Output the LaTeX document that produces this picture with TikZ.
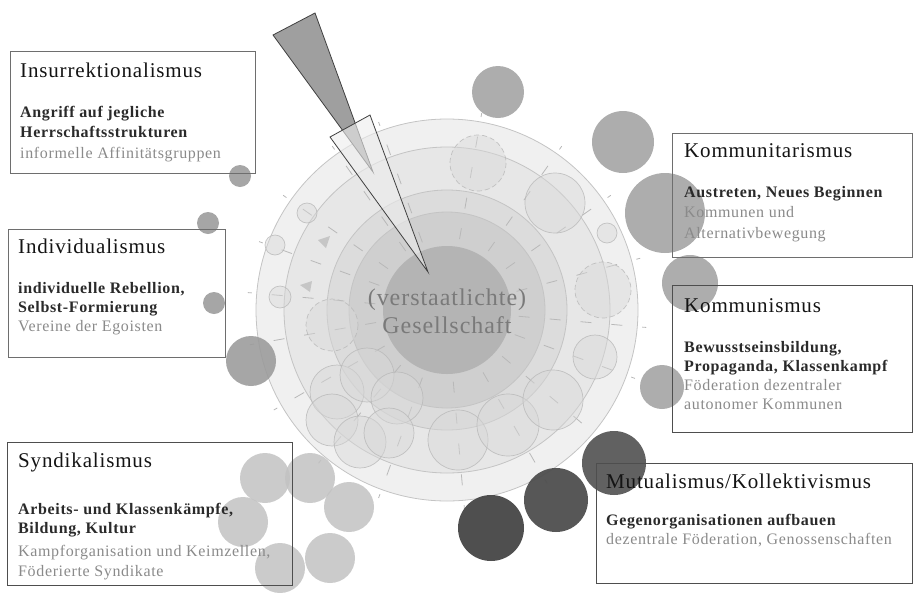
\documentclass[tikz,border=0pt]{standalone}
\usepackage{fontspec}
\setmainfont{Liberation Serif}[LetterSpace=4]
\usetikzlibrary{calc}
\definecolor{ringA}{HTML}{F0F0F0}
\definecolor{ringB}{HTML}{E7E7E7}
\definecolor{ringC}{HTML}{DCDCDC}
\definecolor{ringD}{HTML}{CFCFCF}
\definecolor{ringE}{HTML}{B4B4B4}
\definecolor{ringline}{HTML}{C4C4C4}
\definecolor{faint}{HTML}{D8D8D8}
\definecolor{faintline}{HTML}{B8B8B8}
\definecolor{satc}{HTML}{A6A6A6}
\definecolor{satl}{HTML}{C2C2C2}
\definecolor{smallc}{HTML}{9C9C9C}
\definecolor{darkA}{HTML}{585858}
\definecolor{darkB}{HTML}{4E4E4E}
\definecolor{darkC}{HTML}{464646}
\definecolor{boxc}{HTML}{6E6E6E}
\definecolor{titlec}{HTML}{141414}
\definecolor{boldc}{HTML}{2A2A2A}
\definecolor{grayc}{HTML}{8A8A8A}
\definecolor{centc}{HTML}{7A7A7A}
\begin{document}
\begin{tikzpicture}[x=1pt,y=-1pt,
  ttl/.style={anchor=base west, inner sep=0, font=\fontsize{21}{24}\selectfont, text=titlec},
  bdl/.style={anchor=base west, inner sep=0, font=\fontsize{16}{19}\selectfont\bfseries, text=boldc},
  gyl/.style={anchor=base west, inner sep=0, font=\fontsize{16}{19}\selectfont, text=grayc},
  panel/.style={draw=boxc, line width=1.2pt, anchor=north west, inner sep=0},
  ring/.style={draw=ringline, line width=0.8pt},
  fc/.style={fill=faint, fill opacity=0.45, draw=faintline, draw opacity=0.8, line width=0.7pt},
  fcd/.style={fc, dashed, dash pattern=on 5pt off 3pt},
  ray/.style={draw=faintline, line width=0.8pt, dash pattern=on 11pt off 20pt},
  sat/.style={fill=satc, fill opacity=0.92},
  satlight/.style={fill=satl, fill opacity=0.85},
  small/.style={fill=smallc, fill opacity=0.9}
]
\useasboundingbox (0,0) rectangle (915,592);
\coordinate (C) at (447,310);

% concentric rings
\filldraw[ring, fill=ringA] (C) circle (191);
\filldraw[ring, fill=ringB] (C) circle (163);
\filldraw[ring, fill=ringC] (C) circle (120);
\filldraw[ring, fill=ringD] (C) circle (98);
\fill[ringE] (C) circle (64);

% radial dashed rays
\foreach \a in {150,170,185,200,215,235,250,280,305,325,345,5,20,40,60,85,110,130}
  \draw[ray] ($(C)+(\a:72)$) -- ($(C)+(\a:200)$);

% faint circles in the rings
\filldraw[fc] (337,392) circle (27);
\filldraw[fc] (367,375) circle (27);
\filldraw[fc] (397,398) circle (26);
\filldraw[fc] (332,420) circle (26);
\filldraw[fc] (360,442) circle (26);
\filldraw[fc] (389,433) circle (25);
\filldraw[fc] (458,440) circle (30);
\filldraw[fc] (508,425) circle (31);
\filldraw[fc] (553,400) circle (30);
\filldraw[fc] (595,357) circle (22);
\filldraw[fcd] (603,290) circle (28);
\filldraw[fc] (607,233) circle (10);
\filldraw[fc] (555,203) circle (30);
\filldraw[fcd] (478,163) circle (28);
\filldraw[fc] (280,297) circle (11);
\filldraw[fcd] (332,325) circle (26);
\filldraw[fc] (307,213) circle (10);
\filldraw[fc] (275,245) circle (10);

% small arrow marks
\fill[faintline, opacity=0.7] (318,240) -- (330,236) -- (326,248) -- cycle;
\fill[faintline, opacity=0.7] (300,285) -- (312,281) -- (310,292) -- cycle;

% wedges
\filldraw[fill=gray!75, draw=gray!50!black, line width=0.8pt] (273,35) -- (315,13) -- (373,172) -- cycle;
\filldraw[fill=gray!15, fill opacity=0.6, draw=gray!50!black, line width=0.8pt] (330,137) -- (370,115) -- (428,272) -- cycle;

% satellites (upper right)
\fill[sat] (498,92) circle (26);
\fill[sat] (623,142) circle (31);
\fill[sat] (665,213) circle (40);
\fill[sat] (690,283) circle (28);
\fill[sat] (662,387) circle (22);
% dark satellites
\fill[darkA, fill opacity=0.95] (614,463) circle (32);
\fill[darkB, fill opacity=0.95] (556,500) circle (32);
\fill[darkC, fill opacity=0.95] (491,528) circle (33);
% left small satellites
\fill[small] (240,176) circle (11);
\fill[small] (208,223) circle (11);
\fill[small] (214,303) circle (11);
\fill[small] (251,361) circle (25);
% syndicalism cluster
\fill[satlight] (265,478) circle (25);
\fill[satlight] (310,478) circle (25);
\fill[satlight] (243,522) circle (25);
\fill[satlight] (349,507) circle (25);
\fill[satlight] (330,558) circle (25);
\fill[satlight] (280,568) circle (25);

% center text
\node[inner sep=0, anchor=base, font=\fontsize{24}{28}\selectfont, text=centc] (cent1) at (447,305) {(verstaatlichte)};
\node[inner sep=0, anchor=base, font=\fontsize{24}{28}\selectfont, text=centc] (cent2) at (447,333) {Gesellschaft};

% Insurrektionalismus
\node[panel, minimum width=245pt, minimum height=122pt] (ins) at (10,51) {};
\node[ttl] (insT) at (20,77) {Insurrektionalismus};
\node[bdl] (insA) at (20,117) {Angriff auf jegliche};
\node[bdl] (insB) at (20,137) {Herrschaftsstrukturen};
\node[gyl] (insC) at (20,158) {informelle Affinitätsgruppen};

% Individualismus
\node[panel, minimum width=217pt, minimum height=128pt] (ind) at (8,229) {};
\node[ttl] (indT) at (18,253) {Individualismus};
\node[bdl] (indA) at (18,293) {individuelle Rebellion,};
\node[bdl] (indB) at (18,312) {Selbst-Formierung};
\node[gyl] (indC) at (18,331) {Vereine der Egoisten};

% Syndikalismus
\node[panel, draw=darkB, minimum width=285pt, minimum height=143pt] (syn) at (7,442) {};
\node[ttl] (synT) at (18,467) {Syndikalismus};
\node[bdl] (synA) at (18,514) {Arbeits- und Klassenkämpfe,};
\node[bdl] (synB) at (18,533) {Bildung, Kultur};
\node[gyl] (synC) at (18,556) {Kampforganisation und Keimzellen,};
\node[gyl] (synD) at (18,576) {Föderierte Syndikate};

% Kommunitarismus
\node[panel, minimum width=240pt, minimum height=124pt] (kmt) at (672,133) {};
\node[ttl] (kmtT) at (684,157) {Kommunitarismus};
\node[bdl] (kmtA) at (684,197) {Austreten, Neues Beginnen};
\node[gyl] (kmtB) at (684,217) {Kommunen und};
\node[gyl] (kmtC) at (684,238) {Alternativbewegung};

% Kommunismus
\node[panel, draw=darkB, minimum width=240pt, minimum height=147pt] (kms) at (672,285) {};
\node[ttl] (kmsT) at (684,312) {Kommunismus};
\node[bdl] (kmsA) at (684,352) {Bewusstseinsbildung,};
\node[bdl] (kmsB) at (684,371) {Propaganda, Klassenkampf};
\node[gyl] (kmsC) at (684,390) {Föderation dezentraler};
\node[gyl] (kmsD) at (684,409) {autonomer Kommunen};

% Mutualismus
\node[panel, draw=darkB, minimum width=316pt, minimum height=120pt] (mut) at (596,463) {};
\node[ttl] (mutT) at (606,488) {Mutualismus/Kollektivismus};
\node[bdl] (mutA) at (606,525) {Gegenorganisationen aufbauen};
\node[gyl] (mutB) at (606,544) {dezentrale Föderation, Genossenschaften};
\end{tikzpicture}
\end{document}
